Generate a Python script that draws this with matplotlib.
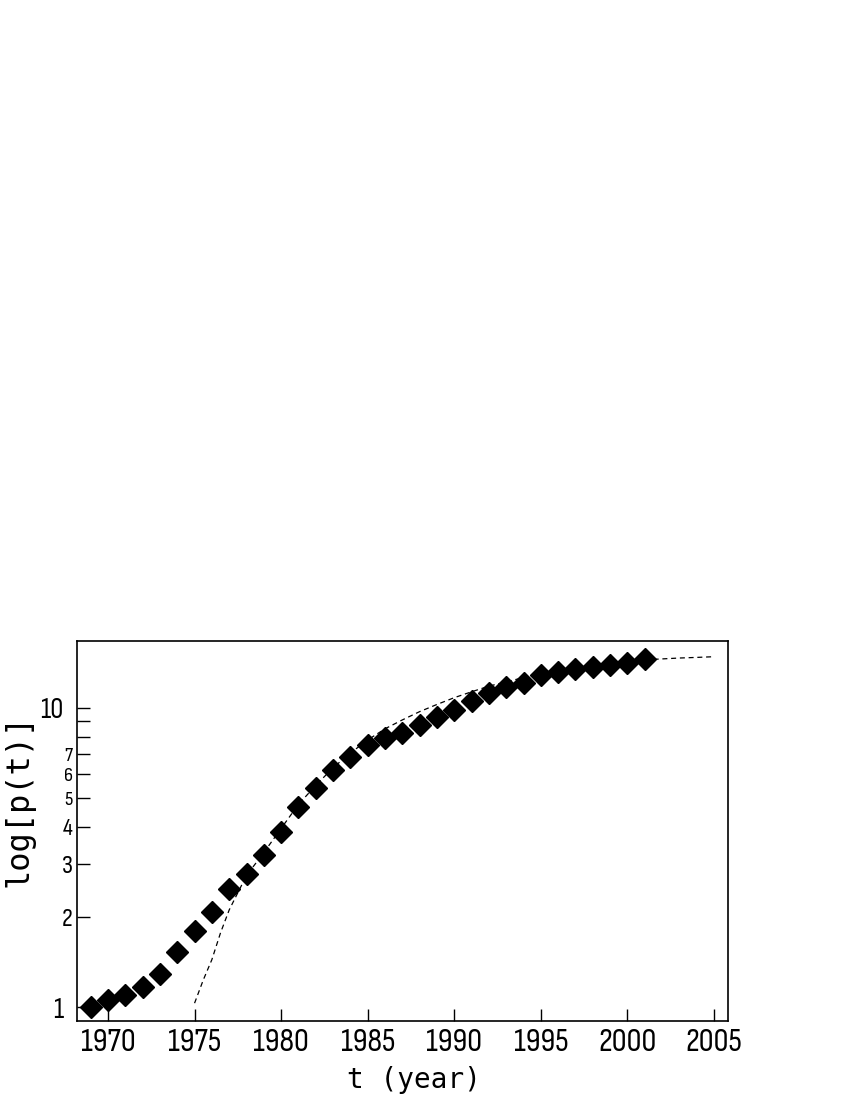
import numpy as np
import matplotlib
matplotlib.use('Agg')
import matplotlib.pyplot as plt
from matplotlib.ticker import FixedLocator, FixedFormatter

# observed values (diamonds)
years = list(range(1969, 2002))
p_obs = [1.00, 1.055, 1.10, 1.166, 1.29, 1.53, 1.80, 2.08, 2.48, 2.78,
         3.22, 3.85, 4.66, 5.40, 6.21, 6.85, 7.53, 7.94, 8.25, 8.77,
         9.34, 9.85, 10.5, 11.2, 11.7, 12.1, 12.9, 13.2, 13.5, 13.7,
         13.9, 14.1, 14.5]

# fitted curve (dashed)
fit_years = [1975, 1975.5, 1976, 1976.5, 1977, 1977.5, 1978, 1979, 1980,
             1981, 1982, 1983, 1984, 1985, 1986, 1987, 1988, 1989, 1990,
             1991, 1992, 1993, 1994, 1995, 1996, 1997, 1998, 1999, 2000,
             2001, 2002, 2003, 2004, 2005]
p_fit = [1.03, 1.23, 1.44, 1.77, 2.11, 2.41, 2.75, 3.28, 3.95,
         4.75, 5.5, 6.3, 7.05, 7.8, 8.5, 9.1, 9.7, 10.25, 10.8,
         11.3, 11.8, 12.2, 12.6, 12.95, 13.3, 13.6, 13.85, 14.1, 14.3,
         14.45, 14.55, 14.65, 14.72, 14.8]

x_ticks = [1970, 1975, 1980, 1985, 1990, 1995, 2000, 2005]
y_major = [1, 10]
y_minor = [2, 3, 4, 5, 6, 7, 8, 9]
y_minor_labels = ['2', '3', '4', '5', '6', '7', '', '']

narrow = ['Liberation Sans Narrow', 'Sofia Sans Condensed', 'DejaVu Sans']
mono = ['DejaVu Sans Mono']

fig = plt.figure(figsize=(8.5, 11), dpi=100)
ax = fig.add_axes([77 / 850, 1 - 1021 / 1100, 651 / 850, 380 / 1100])

ax.plot(fit_years, p_fit, color='black', lw=0.9, dashes=(4, 3), zorder=2)
ax.plot(years, p_obs, 'D', color='black', markersize=11, zorder=3)

ax.set_yscale('log')
ax.set_xlim(1968.21, 2005.81)
ax.set_ylim(0.898, 16.7)

ax.xaxis.set_major_locator(FixedLocator(x_ticks))
ax.yaxis.set_major_locator(FixedLocator(y_major))
ax.yaxis.set_major_formatter(FixedFormatter(['1', '10']))
ax.yaxis.set_minor_locator(FixedLocator(y_minor))
ax.yaxis.set_minor_formatter(FixedFormatter(y_minor_labels))

ax.tick_params(axis='x', which='both', direction='in', length=9, width=1,
               pad=5, top=False)
ax.tick_params(axis='y', which='major', direction='in', length=9, width=1,
               pad=10, right=False)
ax.tick_params(axis='y', which='minor', direction='in', length=9, width=1,
               pad=3, right=False)

for lab in ax.get_xticklabels():
    lab.set_family(narrow)
    lab.set_fontsize(24)
for lab in ax.get_yticklabels():
    lab.set_family(narrow)
    lab.set_fontsize(21)

minor_sizes = [19, 19, 17, 15, 15, 14.5, 10, 10]
for tick, fs in zip(ax.yaxis.get_minor_ticks(), minor_sizes):
    tick.label1.set_family(narrow)
    tick.label1.set_fontsize(fs)

for sp in ax.spines.values():
    sp.set_linewidth(1.2)

fig.text(414 / 850, 1 - 1080 / 1100, 't (year)', family=mono, fontsize=20,
         ha='center', va='center')
fig.text(19 / 850, 1 - 800 / 1100, 'log[p(t)]', family=mono, fontsize=23,
         ha='center', va='center', rotation=90)

fig.savefig('out.png', dpi=100)
